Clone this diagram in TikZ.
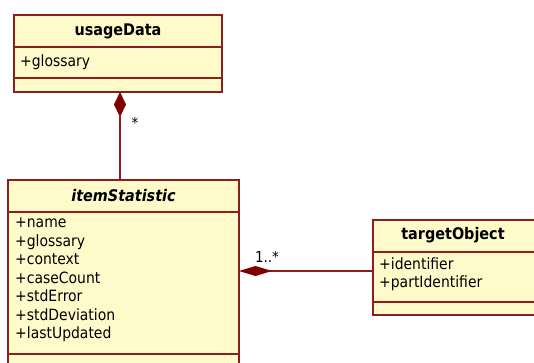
\documentclass[tikz,border=0pt]{standalone}
\usepackage{fontspec}
\setmainfont{DejaVu Sans Condensed}
\usetikzlibrary{arrows.meta}
\definecolor{umlfill}{HTML}{FFFACA}
\definecolor{umlline}{HTML}{8B1E1E}
\definecolor{umldia}{HTML}{800000}
\tikzset{
  cls/.style={draw=umlline, fill=umlfill, line width=1.2pt, anchor=north west, inner sep=0pt, outer sep=0pt},
  sep/.style={draw=umlline, line width=1.2pt},
  ttl/.style={font=\fontsize{16}{18}\selectfont\bfseries, inner sep=0pt, anchor=center},
  attr/.style={font=\fontsize{15.5}{18.5}\selectfont, inner sep=0pt, anchor=west, align=left},
  mult/.style={font=\fontsize{15}{15}\selectfont, inner sep=0pt},
  conn/.style={draw=umlline, line width=1.2pt},
}
\begin{document}
\begin{tikzpicture}[x=1pt,y=-1pt]
\useasboundingbox (0,0) rectangle (534,363);
\clip (0,0) rectangle (534,363);
% usageData
\node[cls, minimum width=208pt, minimum height=77pt] (usage) at (14,15) {};
\draw[sep] (14,47) -- (222,47);
\draw[sep] (14,78) -- (222,78);
\node[ttl] (usageT) at (118,31) {usageData};
\node[attr] (usageA) at (20,62) {+glossary};
% itemStatistic
\node[cls, minimum width=231pt, minimum height=200pt] (item) at (8,180) {};
\draw[sep] (8,212) -- (239,212);
\draw[sep] (8,354) -- (239,354);
\node[ttl, font=\fontsize{16}{18}\selectfont\bfseries\itshape] (itemT) at (123.5,196) {itemStatistic};
\node[attr, anchor=north west] (itemA) at (15,218) {+name\\+glossary\\+context\\+caseCount\\+stdError\\+stdDeviation\\+lastUpdated};
% targetObject
\node[cls, minimum width=162pt, minimum height=95pt] (target) at (373,220) {};
\draw[sep] (373,252) -- (535,252);
\draw[sep] (373,302) -- (535,302);
\node[ttl] (targetT) at (453,235) {targetObject};
\node[attr, anchor=north west] (targetA) at (379,257.5) {+identifier\\+partIdentifier};
% connectors
\draw[conn, {Diamond[length=25pt,width=12pt,fill=umldia,color=umldia]}-] ([xshift=2pt]usage.south) -- ([xshift=2pt]usage.south |- item.north);
\node[mult] (m1) at (135,123) {*};
\draw[conn, {Diamond[length=33pt,width=10pt,fill=umldia,color=umldia]}-] ([yshift=-3.5pt]item.east |- target.west) -- ([yshift=-3.5pt]target.west);
\node[mult] (m2) at (267,257) {1..*};
\end{tikzpicture}
\end{document}
